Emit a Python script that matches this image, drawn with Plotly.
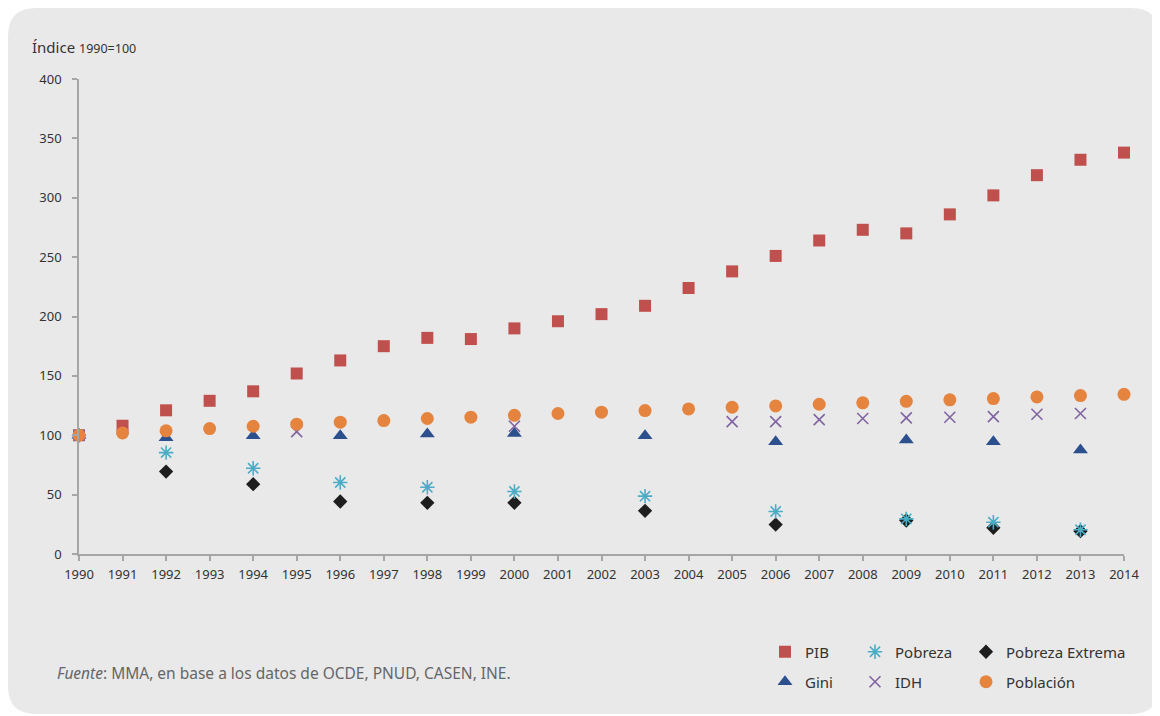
import plotly.graph_objects as go

years_all = list(range(1990, 2015))
pib = [100, 108, 121, 129, 137, 152, 163, 175, 182, 181, 190, 196, 202, 209, 224, 238,
       251, 264, 273, 270, 286, 302, 319, 332, 338]
poblacion = [100, 102, 103.7, 105.6, 107.6, 109.3, 111, 112.4, 114.1, 115.2, 116.8, 118.3,
             119.4, 120.8, 122.2, 123.6, 124.7, 126.1, 127.3, 128.6, 129.8, 130.9, 132.3,
             133.4, 134.5]

years_casen = [1990, 1992, 1994, 1996, 1998, 2000, 2003, 2006, 2009, 2011, 2013]
gini = [100, 98, 99.5, 99.5, 101, 101.5, 99.5, 94.5, 96, 94.5, 87.5]
pobreza = [100, 85.4, 72.2, 60.2, 56.2, 52.6, 48.7, 35.8, 29.6, 26.8, 20.4]
pobreza_extrema = [100, 69.4, 58.8, 44.2, 43.1, 43.1, 36.4, 24.8, 28.2, 22.1, 19.2]

years_idh = [1990, 1995, 2000, 2005, 2006, 2007, 2008, 2009, 2010, 2011, 2012, 2013]
idh = [100, 103, 107.6, 111.5, 111.5, 113.2, 114.1, 114.6, 115.2, 115.7, 117.7, 118.3]

yticks = [0, 50, 100, 150, 200, 250, 300, 350, 400]

FONT = "Noto Sans"
OFF = 8  # page body margin
W, H = 1160 - OFF, 716 - OFF
ML, MR, MT, MB = 79 - OFF, 36, 79 - OFF, 162
PW, PH = W - ML - MR, H - MT - MB
PLOT_BOTTOM = OFF + H - MB  # window pixel of the x axis


def px(x):
    return (x - OFF - ML) / PW


def py(y):
    return (PLOT_BOTTOM - y) / PH


fig = go.Figure()

fig.add_trace(go.Scatter(x=years_all, y=pib, name="PIB", mode="markers", legend="legend",
                         marker=dict(symbol="square", size=12, color="#C0504D")))
fig.add_trace(go.Scatter(x=years_casen, y=pobreza_extrema, name="Pobreza Extrema", mode="markers",
                         legend="legend3",
                         marker=dict(symbol="diamond", size=11, color="#1E1E1E")))
fig.add_trace(go.Scatter(x=years_casen, y=pobreza, name="Pobreza", mode="markers", legend="legend2",
                         marker=dict(symbol="asterisk-open", size=12, color="#4BACC6",
                                     line=dict(color="#4BACC6", width=1.6))))
fig.add_trace(go.Scatter(x=years_casen, y=gini, name="Gini", mode="markers", legend="legend4",
                         marker=dict(symbol="triangle-up", size=13, color="#2C4F8E")))
fig.add_trace(go.Scatter(x=years_idh, y=idh, name="IDH", mode="markers", legend="legend5",
                         marker=dict(symbol="x-thin-open", size=11, color="#8064A2",
                                     line=dict(color="#8064A2", width=1.6))))
fig.add_trace(go.Scatter(x=years_all, y=poblacion, name="Población", mode="markers", legend="legend6",
                         marker=dict(symbol="circle", size=13, color="#E5843F")))

for tr in fig.data:
    tr.cliponaxis = False

leg_common = dict(font=dict(family=FONT, size=15, color="#333333"), bgcolor="rgba(0,0,0,0)",
                  xanchor="left", yanchor="middle", orientation="v")
col_x = [765, 855, 966]
row_y = [652, 682]
legend_pos = {
    "legend": (col_x[0], row_y[0]),
    "legend2": (col_x[1], row_y[0]),
    "legend3": (col_x[2], row_y[0]),
    "legend4": (col_x[0], row_y[1]),
    "legend5": (col_x[1], row_y[1]),
    "legend6": (col_x[2], row_y[1]),
}
legend_layout = {k: dict(leg_common, x=px(v[0]), y=py(v[1])) for k, v in legend_pos.items()}

axis_color = "#A6A6A6"

r = 28
x0, y0, x1, y1 = px(8), py(8), px(1159), py(714)
rx, ry = r / PW, r / PH
path = (f"M {x0 + rx} {y0} L {x1 - rx} {y0} Q {x1} {y0} {x1} {y0 - ry} "
        f"L {x1} {y1 + ry} Q {x1} {y1} {x1 - rx} {y1} "
        f"L {x0 + rx} {y1} Q {x0} {y1} {x0} {y1 + ry} "
        f"L {x0} {y0 - ry} Q {x0} {y0} {x0 + rx} {y0} Z")

fig.update_layout(
    width=W, height=H,
    margin=dict(l=ML, r=MR, t=MT, b=MB, autoexpand=False),
    paper_bgcolor="white",
    plot_bgcolor="rgba(0,0,0,0)",
    font=dict(family=FONT, color="#333333"),
    showlegend=True,
    xaxis=dict(range=[1990, 2014], tickmode="array", tickvals=years_all,
               ticktext=[str(y) for y in years_all],
               showgrid=False, zeroline=False, showline=True, linecolor=axis_color, linewidth=1.5,
               ticks="outside", ticklen=5, tickcolor=axis_color, tickwidth=1.5,
               tickfont=dict(family=FONT, size=13, color="#333333"), ticklabelstandoff=3),
    yaxis=dict(range=[0, 400], tickmode="array", tickvals=yticks,
               showgrid=False, zeroline=False, showline=True, linecolor=axis_color, linewidth=1.5,
               ticks="outside", ticklen=5, tickcolor=axis_color, tickwidth=1.5,
               tickfont=dict(family=FONT, size=13, color="#333333"), ticklabelstandoff=8),
    shapes=[dict(type="path", xref="paper", yref="paper", path=path,
                 fillcolor="#E9E9E9", line=dict(width=0), layer="below")],
    annotations=[
        dict(xref="paper", yref="paper", x=px(30), y=py(47), xanchor="left", yanchor="middle",
             showarrow=False, text="Índice <span style='font-size:12.5px'>1990=100</span>",
             font=dict(family=FONT, size=15, color="#333333")),
        dict(xref="paper", yref="paper", x=px(55), y=py(673), xanchor="left", yanchor="middle",
             showarrow=False,
             text="<i>Fuente</i>: MMA, en base a los datos de OCDE, PNUD, CASEN, INE.",
             font=dict(family=FONT, size=15.5, color="#666666")),
    ],
    **legend_layout,
)

fig.write_html("out.html")
